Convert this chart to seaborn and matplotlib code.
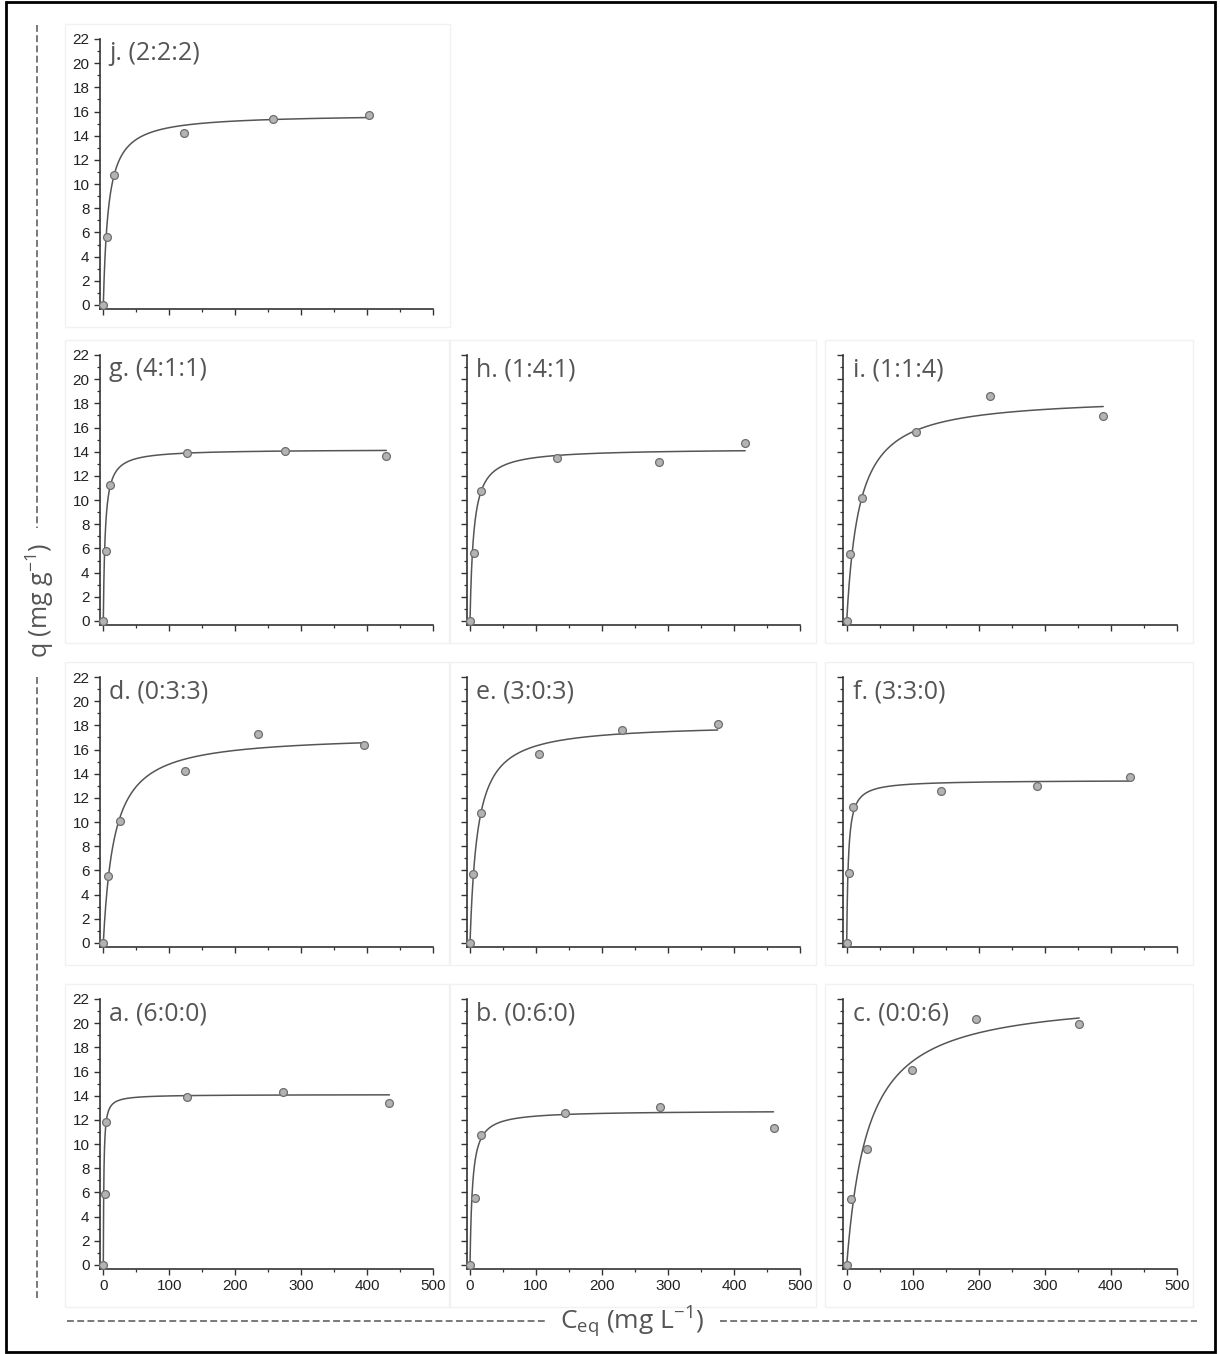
import numpy as np
import pandas as pd
import matplotlib
matplotlib.use("Agg")
import matplotlib.pyplot as plt
import seaborn as sns
from matplotlib.patches import Rectangle
from matplotlib.lines import Line2D
from matplotlib.ticker import MultipleLocator

# ---- adsorption isotherm data (Ceq in mg/L, q in mg/g) ----
ceq_j = [0, 5.0, 16.6, 121.9, 256.8, 401.8]
q_j = [0, 5.65, 10.75, 14.25, 15.41, 15.74]
ceq_g = [0, 4.0, 10.0, 126.1, 274.4, 428.6]
q_g = [0, 5.77, 11.23, 13.91, 14.05, 13.63]
ceq_h = [0, 5.6, 16.7, 131.8, 286.4, 416.7]
q_h = [0, 5.59, 10.74, 13.48, 13.14, 14.72]
ceq_i = [0, 5.1, 23.2, 104.5, 217.7, 388.4]
q_i = [0, 5.58, 10.19, 15.66, 18.62, 16.93]
ceq_d = [0, 6.5, 25.1, 123.1, 234.2, 395.0]
q_d = [0, 5.53, 10.06, 14.23, 17.30, 16.36]
ceq_e = [0, 4.5, 17.1, 104.7, 229.6, 375.1]
q_e = [0, 5.71, 10.73, 15.66, 17.62, 18.09]
ceq_f = [0, 3.0, 9.6, 142.9, 288.4, 428.8]
q_f = [0, 5.77, 11.21, 12.59, 12.97, 13.75]
ceq_a = [0, 2.5, 3.5, 127.3, 271.7, 433.3]
q_a = [0, 5.91, 11.8, 13.87, 14.34, 13.37]
ceq_b = [0, 7.1, 17.2, 143.9, 287.4, 459.6]
q_b = [0, 5.51, 10.71, 12.56, 13.09, 11.34]
ceq_c = [0, 6.6, 30.3, 98.5, 196.5, 352.0]
q_c = [0, 5.42, 9.57, 16.13, 20.34, 19.90]

# panel letters and mixing ratios
panel_ids = ["j", "g", "h", "i", "d", "e", "f", "a", "b", "c"]
ratios = ["2:2:2", "4:1:1", "1:4:1", "1:1:4", "0:3:3", "3:0:3", "3:3:0",
          "6:0:0", "0:6:0", "0:0:6"]
ceq_all = [ceq_j, ceq_g, ceq_h, ceq_i, ceq_d, ceq_e, ceq_f, ceq_a, ceq_b, ceq_c]
q_all = [q_j, q_g, q_h, q_i, q_d, q_e, q_f, q_a, q_b, q_c]

# Langmuir fit parameters per panel: q = qmax*K*C/(1+K*C)
qmax = [15.8, 14.2, 14.27, 18.6, 17.26, 18.15, 13.47, 14.1, 12.77, 22.3]
k_l = [0.13, 0.35, 0.18, 0.053, 0.06, 0.088, 0.40, 1.2, 0.27, 0.031]

# grid position (row, col) of each panel
grid_pos = [(0, 0), (1, 0), (1, 1), (1, 2), (2, 0), (2, 1), (2, 2),
            (3, 0), (3, 1), (3, 2)]

# ---- styling ----
sns.set_theme(style="ticks")
plt.rcParams["font.family"] = ["Liberation Sans", "DejaVu Sans"]
plt.rcParams["mathtext.fontset"] = "custom"
plt.rcParams["mathtext.rm"] = "Open Sans"
plt.rcParams["mathtext.it"] = "Open Sans:italic"

W, H = 1220, 1354
fig = plt.figure(figsize=(W / 100, H / 100), dpi=100)
fig.patch.set_facecolor("white")


def fx(x):
    return x / W


def fy(y):
    return 1 - y / H


col_left = [100.0, 466.7, 843.4]
ax_w = 333.5
row_bottom = [308.6, 624.6, 946.6, 1268.6]
ax_h = 269.6

spine_c = "#333333"
label_c = "#555555"

for pid, ratio, cx, qy, qm, kl, (r, c) in zip(panel_ids, ratios, ceq_all, q_all,
                                               qmax, k_l, grid_pos):
    left = col_left[c]
    bottom = row_bottom[r]

    # faint frame around each panel
    box_l = left - (35 if c == 0 else 18)
    box_r = left + ax_w + 16
    box_t = bottom - ax_h - 15
    box_b = bottom + (38 if r == 3 else 18)
    fig.add_artist(Rectangle((fx(box_l), fy(box_b)), fx(box_r - box_l),
                             (box_b - box_t) / H, transform=fig.transFigure,
                             fill=False, edgecolor="#f1f1f1", lw=1.0, zorder=0))

    ax = fig.add_axes([fx(left), fy(bottom), ax_w / W, ax_h / H])
    ax.set_facecolor("none")

    # Langmuir curve
    cmax = max(cx)
    grid = np.unique(np.concatenate([np.linspace(0, 20, 200),
                                     np.linspace(20, cmax, 300)]))
    fit = qm * kl * grid / (1 + kl * grid)
    sns.lineplot(x=grid, y=fit, ax=ax, color="#555555", lw=1.1,
                 estimator=None, sort=False, zorder=2)

    df = pd.DataFrame({"Ceq": cx, "q": qy})
    sns.scatterplot(data=df, x="Ceq", y="q", ax=ax, s=32, color="#b3b3b3",
                    edgecolor="#6e6e6e", linewidth=0.9, zorder=3, legend=False,
                    clip_on=False)

    ax.set_xlim(-5, 500)
    ax.set_ylim(-0.3, 22)
    ax.xaxis.set_major_locator(MultipleLocator(100))
    ax.xaxis.set_minor_locator(MultipleLocator(50))
    ax.yaxis.set_major_locator(MultipleLocator(2))
    ax.yaxis.set_minor_locator(MultipleLocator(1))
    ax.tick_params(which="major", direction="out", length=4.5, width=1,
                   color=spine_c, labelsize=11, labelcolor="#222222")
    ax.tick_params(which="minor", direction="out", length=2.2, width=0.9,
                   color=spine_c)
    ax.tick_params(axis="y", which="major", pad=3)
    ax.tick_params(axis="x", which="major", pad=3)
    if c != 0:
        ax.tick_params(axis="y", labelleft=False)
    if r != 3:
        ax.tick_params(axis="x", labelbottom=False)
    for side in ["top", "right"]:
        ax.spines[side].set_visible(False)
    for side in ["left", "bottom"]:
        ax.spines[side].set_color(spine_c)
        ax.spines[side].set_linewidth(1.2)
    ax.set_xlabel("")
    ax.set_ylabel("")

    ax.text(0.028, 0.945, f"{pid}. ({ratio})", transform=ax.transAxes,
            ha="left", va="center", fontsize=18, color=label_c,
            family=["Open Sans", "DejaVu Sans"])

# outer frame
fig.add_artist(Rectangle((fx(6), fy(1352)), fx(1215 - 6), (1352 - 2) / H,
                         transform=fig.transFigure, fill=False,
                         edgecolor="black", lw=2.0, zorder=10))

# y-axis title with dashed guides
dash = (0, (4.5, 2.2))
fig.text(fx(40), fy(600), r"q (mg g$^{-1}$)", rotation=90, ha="center",
         va="center", fontsize=18, color=label_c,
         family=["Open Sans", "DejaVu Sans"])
fig.add_artist(Line2D([fx(37), fx(37)], [fy(25), fy(528)],
                      transform=fig.transFigure, color="#555555", lw=1.1,
                      ls=dash))
fig.add_artist(Line2D([fx(37), fx(37)], [fy(677), fy(1300)],
                      transform=fig.transFigure, color="#555555", lw=1.1,
                      ls=dash))

# x-axis title with dashed guides
fig.text(fx(632), fy(1322), r"C$_{\mathrm{eq}}$ (mg L$^{-1}$)", ha="center",
         va="center", fontsize=19, color=label_c,
         family=["Open Sans", "DejaVu Sans"])
fig.add_artist(Line2D([fx(67), fx(545)], [fy(1321), fy(1321)],
                      transform=fig.transFigure, color="#555555", lw=1.1,
                      ls=dash))
fig.add_artist(Line2D([fx(720), fx(1197)], [fy(1321), fy(1321)],
                      transform=fig.transFigure, color="#555555", lw=1.1,
                      ls=dash))

fig.savefig("out.png", dpi=100, facecolor="white")
